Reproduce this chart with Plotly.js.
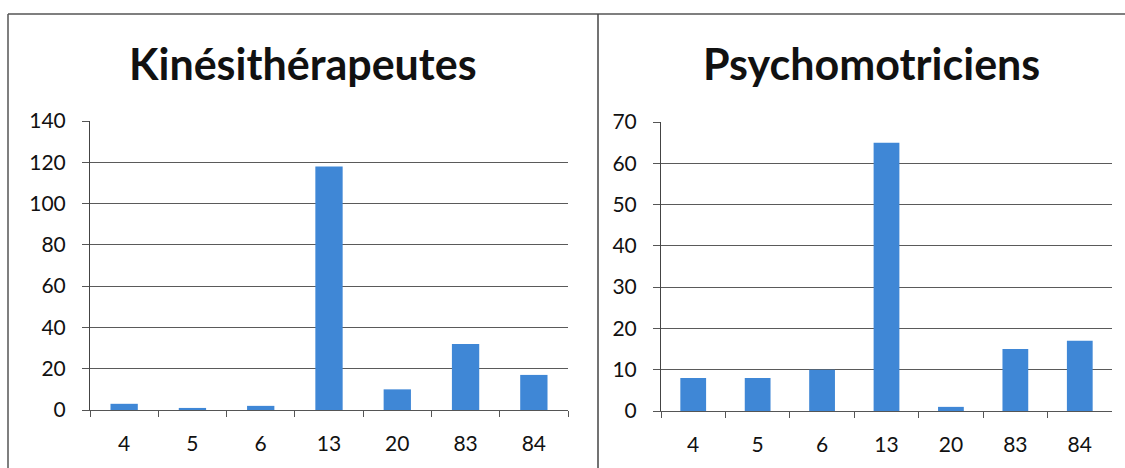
<!DOCTYPE html>
<html><head><meta charset="utf-8">
<script src="https://cdn.plot.ly/plotly-3.0.1.min.js"></script>
<style>html,body{margin:0;padding:0;background:#fff;}#c{width:1125px;height:468px;}</style>
</head><body><div id="c"></div>
<script>
const categories = ["4","5","6","13","20","83","84"];
const kineValues = [3, 1, 2, 118, 10, 32, 17];
const psychoValues = [8, 8, 10, 65, 1, 15, 17];
const titles = ["Kinésithérapeutes", "Psychomotriciens"];
const kineTicks = [0,20,40,60,80,100,120,140];
const psychoTicks = [0,10,20,30,40,50,60,70];

const W = 1125, H = 468;
const px = v => v / W, py = v => 1 - v / H;
const barColor = "#3f87d6";
const font = {family: "Lato, sans-serif", size: 21, color: "#111"};

const traces = [
  {type: "bar", x: categories, y: kineValues, xaxis: "x", yaxis: "y", marker: {color: barColor}, hoverinfo: "x+y"},
  {type: "bar", x: categories, y: psychoValues, xaxis: "x2", yaxis: "y2", marker: {color: barColor}, hoverinfo: "x+y"}
];

function xa(d, anchor) {
  return {domain: d, anchor: anchor, type: "category", showline: true, linecolor: "#555", linewidth: 1,
    ticks: "outside", tickson: "boundaries", ticklen: 6, tickcolor: "#555", tickfont: font,
    ticklabelstandoff: 15, showgrid: false, zeroline: false, fixedrange: true};
}
function ya(d, anchor, tickvals, max) {
  return {domain: d, anchor: anchor, range: [0, max], tickvals: tickvals, showline: true, linecolor: "#444", linewidth: 1,
    ticks: "outside", ticklen: 7, tickcolor: "#555", tickfont: font, ticklabelstandoff: 12,
    showgrid: true, gridcolor: "#5a5a5a", gridwidth: 1, zeroline: false, fixedrange: true};
}

const layout = {
  width: W, height: H, margin: {l: 0, r: 0, t: 0, b: 0},
  paper_bgcolor: "#fff", plot_bgcolor: "#fff", showlegend: false, bargap: 0.6,
  xaxis: xa([px(90), px(568)], "y"),
  yaxis: ya([py(410), py(121)], "x", kineTicks, 140),
  xaxis2: xa([px(661), px(1112)], "y2"),
  yaxis2: ya([py(411), py(122)], "x2", psychoTicks, 70),
  annotations: [
    {text: "<b>" + titles[0] + "</b>", xref: "paper", yref: "paper", x: px(303), y: py(64), xanchor: "center", yanchor: "middle", showarrow: false,
      font: {family: "Lato, sans-serif", size: 43, color: "#111"}},
    {text: "<b>" + titles[1] + "</b>", xref: "paper", yref: "paper", x: px(871), y: py(64), xanchor: "center", yanchor: "middle", showarrow: false,
      font: {family: "Lato, sans-serif", size: 43, color: "#111"}}
  ],
  shapes: [
    {type: "line", xref: "paper", yref: "paper", x0: px(8), x1: 1, y0: py(14), y1: py(14), line: {color: "#555", width: 1.5}},
    {type: "line", xref: "paper", yref: "paper", x0: px(8), x1: px(8), y0: py(14), y1: 0, line: {color: "#555", width: 1.5}},
    {type: "line", xref: "paper", yref: "paper", x0: px(598), x1: px(598), y0: py(14), y1: 0, line: {color: "#444", width: 1.5}}
  ]
};

Plotly.newPlot("c", traces, layout, {displayModeBar: false, staticPlot: true});
</script></body></html>
